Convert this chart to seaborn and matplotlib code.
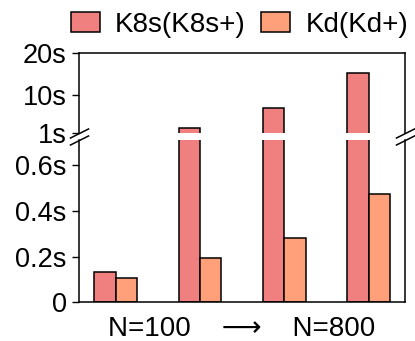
import matplotlib
matplotlib.use("Agg")
import matplotlib.pyplot as plt
import seaborn as sns
import pandas as pd

plt.rcParams['font.family'] = ['Liberation Sans', 'DejaVu Sans']
plt.rcParams['font.size'] = 19.5

groups = ['g1', 'g2', 'g3', 'g4']
k8s_vals = [0.131, 2.2, 7.0, 15.3]
kd_vals = [0.105, 0.195, 0.28, 0.474]
series = ['K8s(K8s+)', 'Kd(Kd+)']
colors = ['#F08080', '#FFA07A']

df = pd.DataFrame({
    'group': groups * 2,
    'time': k8s_vals + kd_vals,
    'sys': [series[0]] * 4 + [series[1]] * 4,
})

fig = plt.figure(figsize=(4.15, 3.41), dpi=100)
ax_top = fig.add_axes([0.1904, 0.61, 0.7855, 0.2346])
ax_bot = fig.add_axes([0.1904, 0.1135, 0.7855, 0.4759])

for ax in (ax_top, ax_bot):
    sns.barplot(data=df, x='group', y='time', hue='sys', palette=colors,
                saturation=1, width=0.506, edgecolor='black', linewidth=1.1,
                ax=ax, legend=(ax is ax_bot))
    ax.set_xlim(-0.435, 3.43)
    ax.set_ylabel('')
    ax.set_xticks([])
    ax.tick_params(axis='y', length=5, width=1, direction='out', pad=4)
    for s in ax.spines.values():
        s.set_linewidth(1.1)

ax_top.set_ylim(1, 20)
ax_top.set_yticks([1, 10, 20])
ax_top.set_yticklabels(['1s', '10s', '20s'])
ax_top.spines['bottom'].set_visible(False)
ax_top.set_xlabel('')

ax_bot.set_ylim(0, 0.709)
ax_bot.set_yticks([0, 0.2, 0.4, 0.6])
ax_bot.set_yticklabels(['0', '0.2s', '0.4s', '0.6s'])
ax_bot.spines['top'].set_visible(False)
ax_bot.set_xlabel('N=100    \u27f6    N=800', fontsize=20, labelpad=10)

# break marks
d = 0.5
kw = dict(marker=[(-1, -d), (1, d)], markersize=14, linestyle='none',
          color='k', mec='k', mew=1.1, clip_on=False)
ax_top.plot([0, 1], [0, 0], transform=ax_top.transAxes, **kw)
ax_bot.plot([0, 1], [1, 1], transform=ax_bot.transAxes, **kw)

handles, labels = ax_bot.get_legend_handles_labels()
ax_bot.get_legend().remove()
fig.legend(handles, labels, loc='center', ncol=2, frameon=False, fontsize=20,
           bbox_to_anchor=(0.577, 0.927), handlelength=1.05, handleheight=0.72,
           handletextpad=0.55, columnspacing=0.55, borderaxespad=0)

fig.savefig('out.png', dpi=100)
